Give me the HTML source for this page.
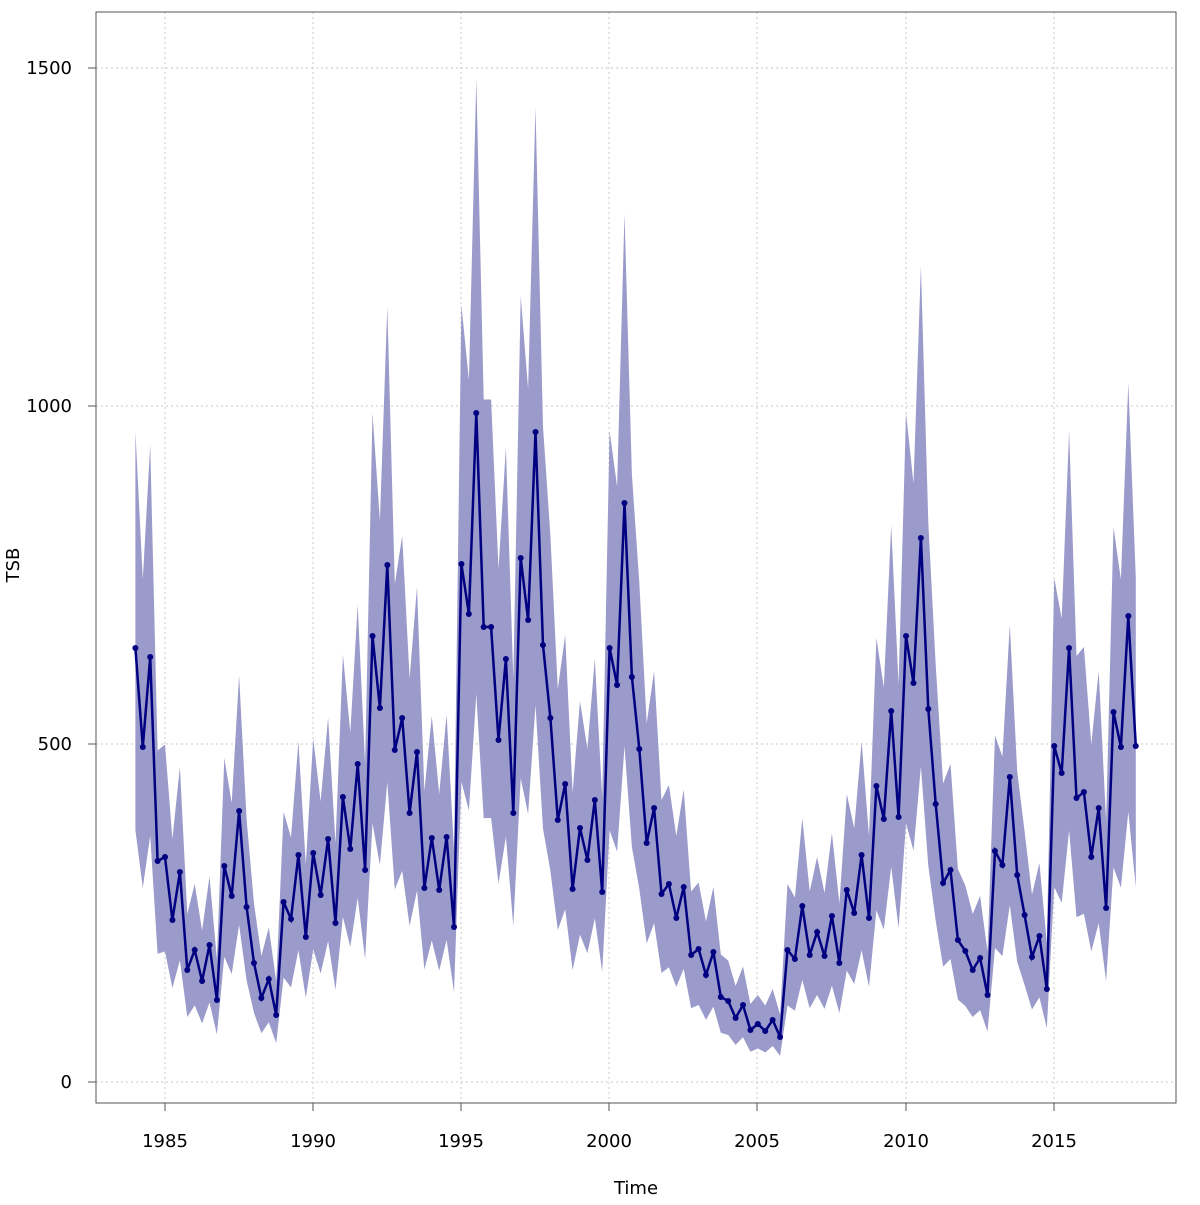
<!DOCTYPE html>
<html><head><meta charset="utf-8"><style>
html,body{margin:0;padding:0;background:#fff;}
text{font-family:"DejaVu Sans","Liberation Sans",sans-serif;font-size:18px;fill:#000;}
</style></head><body>
<svg id="s" width="1200" height="1200" xmlns="http://www.w3.org/2000/svg">
<g id="grid" stroke="#c8c8c8" stroke-dasharray="2,3" stroke-width="1"></g>
<polygon id="band" fill="#9a9acb" stroke="none"/>
<polyline id="line" fill="none" stroke="#000080" stroke-width="2.5"/>
<g id="pts" fill="#000080"></g>
<rect x="96" y="12" width="1080" height="1091" fill="none" stroke="#555" stroke-width="1"/>
<g id="ticks" stroke="#555" stroke-width="1"></g>
<text x="72" y="1088" text-anchor="end">0</text>
<text x="72" y="750" text-anchor="end">500</text>
<text x="72" y="412" text-anchor="end">1000</text>
<text x="72" y="74" text-anchor="end">1500</text>
<text x="165" y="1147" text-anchor="middle">1985</text>
<text x="313" y="1147" text-anchor="middle">1990</text>
<text x="461" y="1147" text-anchor="middle">1995</text>
<text x="609" y="1147" text-anchor="middle">2000</text>
<text x="757" y="1147" text-anchor="middle">2005</text>
<text x="906" y="1147" text-anchor="middle">2010</text>
<text x="1054" y="1147" text-anchor="middle">2015</text>
<text x="636" y="1194" text-anchor="middle">Time</text>
<text transform="translate(19,565) rotate(-90)" text-anchor="middle">TSB</text>
</svg>
<script>
var py=[648,747,657,861,857,920,872,970,950,981,945,1000,866,896,811,907,963,998,979,1015,902,919,855,937,853,895,839,923,797,849,764,870,636,708,565,750,718,813,752,888,838,890,837,927,564,614,413,627,627,740,659,813,558,620,432,645,718,820,784,889,828,860,800,892,648,685,503,677,749,843,808,894,884,918,887,955,949,975,952,997,1001,1018,1005,1030,1024,1031,1020,1037,950,959,906,955,932,956,916,963,890,913,855,918,786,819,711,817,636,683,538,709,804,883,870,940,951,970,958,995,851,865,777,875,915,957,936,989,746,773,648,798,792,857,808,908,712,747,616,746];
var Y0=1082,S=0.676,ns="http://www.w3.org/2000/svg";
function X(i){return 135.4+7.41*i;}
var v=py.map(function(y){return (Y0-y)/S;});
var up=[],lo=[],ln=[],pts=document.getElementById('pts');
for(var i=0;i<v.length;i++){
 var x=X(i);
 up.push(x.toFixed(1)+','+(Y0-v[i]*1.5*S).toFixed(1));
 lo.unshift(x.toFixed(1)+','+(Y0-v[i]*0.58*S).toFixed(1));
 ln.push(x.toFixed(1)+','+py[i]);
 var c=document.createElementNS(ns,'circle');c.setAttribute('cx',x);c.setAttribute('cy',py[i]);c.setAttribute('r',3);pts.appendChild(c);
}
document.getElementById('band').setAttribute('points',up.concat(lo).join(' '));
document.getElementById('line').setAttribute('points',ln.join(' '));
var g=document.getElementById('grid'),t=document.getElementById('ticks');
function L(p,a,b,c,d){var l=document.createElementNS(ns,'line');l.setAttribute('x1',a);l.setAttribute('y1',b);l.setAttribute('x2',c);l.setAttribute('y2',d);p.appendChild(l);}
[1082,744,406,68].forEach(function(y){L(g,96,y,1176,y);L(t,88,y,96,y);});
[165,313,461,609,757,906,1054].forEach(function(x){L(g,x,12,x,1103);L(t,x,1103,x,1111);});
</script>
</body></html>
